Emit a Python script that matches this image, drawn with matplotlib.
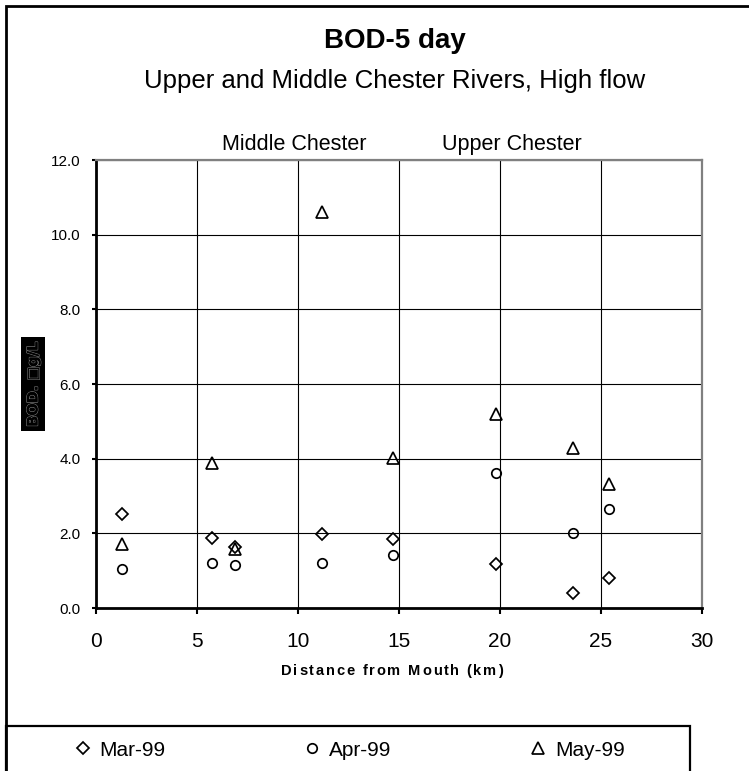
# BOD-5 day scatter, upper / middle Chester, high flow

import matplotlib
matplotlib.use("Agg")
import matplotlib.pyplot as plt
import matplotlib.patheffects as pe
from matplotlib.patches import Rectangle
from matplotlib.font_manager import FontProperties

plt.rcParams['font.family'] = ['Liberation Sans', 'DejaVu Sans']

W, H = 749, 771

distance = [1.3, 5.75, 6.9, 11.2, 14.7, 19.8, 23.6, 25.4]
mar99 = [2.52, 1.87, 1.64, 1.98, 1.84, 1.18, 0.39, 0.81]
apr99 = [1.04, 1.21, 1.15, 1.21, 1.42, 3.62, 2.02, 2.66]
may99 = [1.71, 3.89, 1.58, 10.6, 4.02, 5.2, 4.28, 3.31]

series_names = ["Mar-99", "Apr-99", "May-99"]
xticks = [0, 5, 10, 15, 20, 25, 30]
yticks = [0, 2, 4, 6, 8, 10, 12]


def fx(px):
    return px / W


def fy(py):
    return 1 - py / H


fig = plt.figure(figsize=(W / 100, H / 100), dpi=100)
fig.patch.set_facecolor('white')

ax = fig.add_axes([fx(96), fy(608), fx(702) - fx(96), fy(160) - fy(608)])

mk = dict(ls='none', mfc='none', mec='black', mew=1.25, color='black')
l1, = ax.plot(distance, mar99, marker='D', ms=6.3, **mk)
l2, = ax.plot(distance, apr99, marker='o', ms=6.8, **mk)
l3, = ax.plot(distance, may99, marker='^', ms=8.2, **mk)

ax.set_xlim(0, 30)
ax.set_ylim(0, 12)
ax.set_xticks(xticks)
ax.set_yticks(yticks)
ax.set_yticklabels(["%.1f" % v for v in yticks])
ax.grid(True, color='black', lw=0.8)
ax.set_axisbelow(True)

for s in ['top', 'right']:
    ax.spines[s].set_color('#808080')
    ax.spines[s].set_linewidth(1.6)
for s in ['left', 'bottom']:
    ax.spines[s].set_color('black')
    ax.spines[s].set_linewidth(2.0)

ax.tick_params(axis='y', direction='out', length=3, width=1.5, labelsize=11, pad=8)
ax.tick_params(axis='x', direction='out', length=4, width=1.5, labelsize=15, pad=13)

# titles
fig.text(fx(395), fy(48), "BOD-5 day", ha='center', va='baseline',
         fontsize=20, fontweight='bold')
fig.text(fx(395), fy(88), "Upper and Middle Chester Rivers, High flow",
         ha='center', va='baseline', fontsize=18.5)
ax.text(9.8, 1 + 10 / 448, "Middle Chester", transform=ax.get_xaxis_transform(),
        ha='center', va='baseline', fontsize=15.5)
ax.text(20.6, 1 + 10 / 448, "Upper Chester", transform=ax.get_xaxis_transform(),
        ha='center', va='baseline', fontsize=15.5)

# x label with letter spacing
label = "Distance from Mouth (km)"
prop = FontProperties(family='Liberation Sans', weight='bold', size=10.5)
rend = fig.canvas.get_renderer()


def tw(s):
    return rend.get_text_width_height_descent(s, prop, ismath=False)[0]


base = tw("xx")
adv = [tw("x" + c + "x") - base for c in label]
track = 1.8
total = sum(adv) + track * (len(adv) - 1)
xpos = 392 - total / 2
for c, a in zip(label, adv):
    fig.text(fx(xpos), fy(671), c, ha='left', va='center', fontproperties=prop)
    xpos += a + track

# y label (black box, hollow grey letters)
fig.text(fx(33), fy(384), "BOD. \u25a1g/L", rotation=90, ha='center', va='center',
         fontsize=10.5, fontweight='bold', color='black',
         family=['DejaVu Sans'],
         path_effects=[pe.withStroke(linewidth=1.0, foreground='#7a7a7a'),
                       pe.Normal()],
         bbox=dict(boxstyle='square,pad=0.3', fc='black', ec='none'))

# outer frame and legend box
fig.patches.append(Rectangle((fx(6), -0.1), 1.2, fy(6) + 0.1, transform=fig.transFigure,
                             fill=False, ec='black', lw=2.0, clip_on=False))
fig.patches.append(Rectangle((fx(6), -0.1), fx(690) - fx(6), fy(726) + 0.1,
                             transform=fig.transFigure, fill=False, ec='black',
                             lw=1.6, clip_on=False))

fig.legend([l1, l2, l3], series_names, ncol=3, loc='center left',
           bbox_to_anchor=(fx(74.3), fy(750)), frameon=False, fontsize=15,
           numpoints=1, markerscale=1.0, handlelength=0.8, handletextpad=0.4,
           columnspacing=6.65, borderpad=0, borderaxespad=0)

fig.savefig("out.png", dpi=100)
